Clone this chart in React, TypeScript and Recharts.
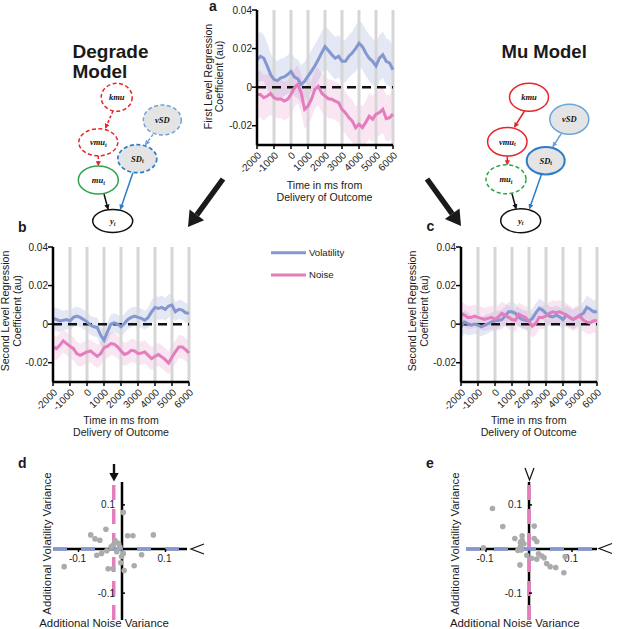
import React from 'react';
import {
  ComposedChart,
  Line,
  Area,
  XAxis,
  YAxis,
  ReferenceLine,
  ReferenceDot,
  ScatterChart,
  Scatter,
} from 'recharts';

// time axis (ms from delivery of outcome)
const times = [
  -2000, -1800, -1600, -1400, -1200, -1000, -800, -600, -400, -200, 0, 200, 400, 600, 800, 1000,
  1200, 1400, 1600, 1800, 2000, 2200, 2400, 2600, 2800, 3000, 3200, 3400, 3600, 3800, 4000, 4200,
  4400, 4600, 4800, 5000, 5200, 5400, 5600, 5800, 6000,
];
const xTicks = [-2000, -1000, 0, 1000, 2000, 3000, 4000, 5000, 6000];
const gridTimes = [-1000, 0, 1000, 2000, 3000, 4000, 5000, 6000];
const yTicks = [-0.02, 0, 0.02, 0.04];

// panel a - first level
const aVol = [
  0.0142, 0.016, 0.015, 0.011, 0.0065, 0.004, 0.0034, 0.0048, 0.0053, 0.0065, 0.0082, 0.0053,
  0.0043, 0.0014, 0.003, 0.0057, 0.0082, 0.011, 0.0142, 0.0177, 0.021, 0.019, 0.0168, 0.015, 0.016,
  0.0134, 0.0134, 0.016, 0.0177, 0.02, 0.0228, 0.021, 0.0177, 0.015, 0.0134, 0.011, 0.015, 0.0168,
  0.0134, 0.0125, 0.009,
];
const aVolSe = [
  0.013, 0.013, 0.012, 0.012, 0.011, 0.011, 0.01, 0.01, 0.01, 0.01, 0.01, 0.01, 0.01, 0.01, 0.01,
  0.01, 0.011, 0.011, 0.011, 0.011, 0.011, 0.011, 0.011, 0.011, 0.011, 0.011, 0.011, 0.011, 0.011,
  0.012, 0.012, 0.012, 0.012, 0.012, 0.012, 0.012, 0.012, 0.012, 0.012, 0.012, 0.012,
];
const aNoise = [
  -0.0038, -0.0038, -0.0055, -0.0046, -0.0033, -0.0055, -0.0063, -0.006, -0.0072, -0.0063, -0.0038,
  -0.0003, 0.0014, -0.003, -0.0115, -0.0098, -0.0063, -0.0012, 0.0005, -0.003, -0.0046, -0.006,
  -0.0063, -0.0072, -0.008, -0.0115, -0.0132, -0.0158, -0.0175, -0.021, -0.0192, -0.021, -0.0183,
  -0.015, -0.0166, -0.014, -0.0132, -0.0115, -0.0163, -0.0158, -0.014,
];
const aNoiseSe = [
  0.012, 0.012, 0.012, 0.011, 0.011, 0.01, 0.01, 0.01, 0.01, 0.01, 0.01, 0.01, 0.01, 0.01, 0.01,
  0.01, 0.01, 0.01, 0.01, 0.01, 0.01, 0.01, 0.01, 0.01, 0.01, 0.011, 0.011, 0.011, 0.011, 0.011,
  0.011, 0.011, 0.011, 0.012, 0.012, 0.012, 0.012, 0.012, 0.012, 0.012, 0.012,
];

// panel b - degrade model
const bVol = [
  0.003, 0.0024, 0.0017, 0.002, 0.0024, 0.0017, 0.0035, 0.0042, 0.0035, 0.0024, 0.0012, -0.0005,
  -0.0014, -0.0017, -0.0057, -0.0083, -0.004, 0, 0.0007, 0, -0.0014, 0.0003, 0.0024, 0.0035, 0.0042,
  0.0035, 0.003, 0.002, 0.0035, 0.0064, 0.0087, 0.0082, 0.0087, 0.0077, 0.0094, 0.0099, 0.0064,
  0.0077, 0.0073, 0.0059, 0.0056,
];
const bVolSe = [
  0.006, 0.006, 0.006, 0.005, 0.005, 0.005, 0.005, 0.005, 0.005, 0.005, 0.005, 0.005, 0.005, 0.005,
  0.005, 0.005, 0.005, 0.005, 0.005, 0.005, 0.005, 0.005, 0.005, 0.005, 0.005, 0.005, 0.005, 0.005,
  0.005, 0.006, 0.006, 0.006, 0.006, 0.006, 0.006, 0.006, 0.005, 0.005, 0.005, 0.005, 0.005,
];
const bNoise = [
  -0.0118, -0.0127, -0.011, -0.0087, -0.0101, -0.0115, -0.0127, -0.0153, -0.0162, -0.0153, -0.0144,
  -0.0139, -0.0153, -0.0167, -0.0153, -0.0122, -0.0115, -0.0101, -0.0104, -0.0118, -0.0139, -0.0157,
  -0.015, -0.0136, -0.0139, -0.0153, -0.015, -0.0144, -0.0162, -0.0179, -0.0167, -0.0157, -0.017,
  -0.0184, -0.0202, -0.017, -0.0144, -0.0118, -0.0118, -0.0132, -0.015,
];
const bNoiseSe = [
  0.006, 0.006, 0.006, 0.006, 0.006, 0.006, 0.006, 0.006, 0.006, 0.006, 0.006, 0.006, 0.006, 0.006,
  0.006, 0.006, 0.006, 0.006, 0.006, 0.006, 0.006, 0.006, 0.006, 0.006, 0.006, 0.006, 0.006, 0.006,
  0.006, 0.006, 0.006, 0.006, 0.006, 0.006, 0.006, 0.006, 0.006, 0.006, 0.006, 0.006, 0.006,
];

// panel c - mu model
const cVol = [
  -0.0014, 0.0012, 0.0003, -0.0005, 0, -0.0005, -0.0014, -0.0005, 0.0003, 0.0012, 0.0017, 0.002,
  0.0024, 0.0042, 0.0064, 0.0064, 0.0056, 0.0035, 0.0024, 0.002, 0.0017, 0.003, 0.0059, 0.0082,
  0.0073, 0.0056, 0.0042, 0.0038, 0.0047, 0.0038, 0.0024, 0.0047, 0.0035, 0.0024, 0.0035, 0.0047,
  0.0056, 0.0087, 0.0077, 0.0064, 0.0064,
];
const cVolSe = [
  0.006, 0.006, 0.006, 0.005, 0.005, 0.005, 0.005, 0.005, 0.005, 0.005, 0.005, 0.005, 0.005, 0.005,
  0.005, 0.005, 0.005, 0.005, 0.005, 0.005, 0.005, 0.005, 0.005, 0.005, 0.005, 0.005, 0.005, 0.005,
  0.005, 0.005, 0.005, 0.005, 0.005, 0.005, 0.005, 0.005, 0.006, 0.006, 0.006, 0.006, 0.006,
];
const cNoise = [
  0.0056, 0.0047, 0.0035, 0.0035, 0.0042, 0.0035, 0.003, 0.0024, 0.003, 0.0035, 0.0024, 0.0038,
  0.0056, 0.0047, 0.0035, 0.0024, 0.002, 0.0052, 0.0042, 0.0035, 0.0012, -0.001, 0.0003, 0.0035,
  0.0035, 0.0042, 0.0056, 0.0064, 0.0059, 0.0064, 0.0056, 0.0047, 0.0035, 0.0024, 0.0035, 0.0042,
  0.002, 0.0012, 0.0007, 0.0017, 0.0017,
];
const cNoiseSe = [
  0.006, 0.006, 0.006, 0.006, 0.006, 0.006, 0.006, 0.006, 0.006, 0.006, 0.006, 0.006, 0.006, 0.006,
  0.006, 0.006, 0.006, 0.006, 0.006, 0.006, 0.006, 0.006, 0.006, 0.006, 0.006, 0.006, 0.006, 0.006,
  0.006, 0.006, 0.006, 0.006, 0.006, 0.006, 0.006, 0.006, 0.006, 0.006, 0.006, 0.006, 0.006,
];

// panels d / e - per subject additional variance
const dPoints = [
  { x: 0.003, y: 0.083 }, { x: -0.037, y: 0.045 }, { x: -0.072, y: 0.032 }, { x: -0.062, y: 0.023 },
  { x: -0.051, y: 0.02 }, { x: -0.016, y: 0.019 }, { x: 0.013, y: 0.03 }, { x: 0.025, y: 0.03 },
  { x: 0.072, y: 0.032 }, { x: -0.025, y: 0.005 }, { x: -0.02, y: 0.009 }, { x: -0.008, y: 0.013 },
  { x: -0.012, y: -0.006 }, { x: 0.003, y: -0.01 }, { x: -0.058, y: -0.014 }, { x: -0.047, y: -0.01 },
  { x: -0.035, y: -0.004 }, { x: -0.005, y: 0.005 }, { x: 0.045, y: -0.013 }, { x: -0.003, y: -0.031 },
  { x: -0.133, y: -0.04 }, { x: 0.028, y: -0.038 }, { x: -0.032, y: -0.045 }, { x: -0.021, y: -0.045 },
  { x: 0.005, y: -0.049 }, { x: -0.001, y: -0.017 },
];
const ePoints = [
  { x: -0.085, y: 0.092 }, { x: -0.061, y: 0.051 }, { x: 0.012, y: 0.052 }, { x: -0.033, y: 0.024 },
  { x: -0.016, y: 0.03 }, { x: 0.012, y: 0.024 }, { x: 0.018, y: 0.017 }, { x: -0.106, y: 0.003 },
  { x: -0.02, y: 0.015 }, { x: -0.016, y: 0.02 }, { x: -0.012, y: 0.012 }, { x: -0.02, y: 0.005 },
  { x: -0.026, y: -0.003 }, { x: -0.018, y: -0.002 }, { x: -0.005, y: -0.014 }, { x: -0.021, y: -0.036 },
  { x: 0.006, y: -0.021 }, { x: 0.018, y: -0.023 }, { x: 0.022, y: -0.011 }, { x: 0.03, y: -0.016 },
  { x: 0.035, y: -0.02 }, { x: 0.041, y: -0.033 }, { x: 0.049, y: -0.04 }, { x: 0.062, y: -0.042 },
  { x: 0.084, y: -0.017 }, { x: 0.081, y: -0.054 },
];
const scatterTicks = [-0.1, 0.1];
const dNoiseShift = -0.019;
const eNoiseShift = 0;

const BLUE = '#8597d0';
const PINK = '#e47cbd';
const GRID = '#d6d6d6';
const FONT = "'Liberation Sans', Arial, sans-serif";

function makeRows(vol: number[], volSe: number[], noise: number[], noiseSe: number[]) {
  return times.map((t, i) => ({
    t,
    vol: vol[i],
    volBand: [vol[i] - volSe[i], vol[i] + volSe[i]],
    noise: noise[i],
    noiseBand: [noise[i] - noiseSe[i], noise[i] + noiseSe[i]],
  }));
}

const rowsA = makeRows(aVol, aVolSe, aNoise, aNoiseSe);
const rowsB = makeRows(bVol, bVolSe, bNoise, bNoiseSe);
const rowsC = makeRows(cVol, cVolSe, cNoise, cNoiseSe);

function RotTick(props: any) {
  const { x, y, payload } = props;
  const ax = x + 5;
  const ay = y + 5;
  return (
    <text x={ax} y={ay} transform={`rotate(-45 ${ax} ${ay})`} textAnchor="end" fontSize={10} fill="#222">
      {payload.value}
    </text>
  );
}

function TracePanel({ left, top, rows }: { left: number; top: number; rows: any[] }) {
  return (
    <div style={{ position: 'absolute', left, top }}>
      <ComposedChart width={177} height={185} data={rows} margin={{ top: 10, right: 6, bottom: 0, left: 0 }}>
        <XAxis
          dataKey="t"
          type="number"
          domain={[-2000, 6000]}
          ticks={xTicks}
          interval={0}
          height={40}
          tick={<RotTick />}
          tickSize={4}
          axisLine={{ stroke: '#000', strokeWidth: 2.5 }}
          tickLine={{ stroke: '#000', strokeWidth: 1.5 }}
        />
        <YAxis
          type="number"
          domain={[-0.03, 0.04]}
          allowDataOverflow
          ticks={yTicks}
          interval={0}
          width={35}
          tickSize={5}
          tickMargin={0}
          tick={{ fill: '#222', fontSize: 10 }}
          tickFormatter={(v: number) => (v === 0 ? '0' : v.toFixed(2))}
          axisLine={{ stroke: '#000', strokeWidth: 2.5 }}
          tickLine={{ stroke: '#000', strokeWidth: 1.5 }}
        />
        {gridTimes.map((g) => (
          <ReferenceLine key={g} x={g} stroke={GRID} strokeWidth={3} />
        ))}
        <Area dataKey="volBand" stroke="none" fill={BLUE} fillOpacity={0.22} isAnimationActive={false} />
        <Area dataKey="noiseBand" stroke="none" fill={PINK} fillOpacity={0.2} isAnimationActive={false} />
        <ReferenceLine y={0} stroke="#111" strokeWidth={2.5} strokeDasharray="9 6" />
        <Line dataKey="vol" stroke={BLUE} strokeWidth={3} dot={false} isAnimationActive={false} />
        <Line dataKey="noise" stroke={PINK} strokeWidth={3} dot={false} isAnimationActive={false} />
      </ComposedChart>
    </div>
  );
}

function XTickMark(props: any) {
  const { cx, cy, label } = props;
  return (
    <g>
      <line x1={cx} y1={cy} x2={cx} y2={cy + 3} stroke="#000" strokeWidth={1.5} />
      <text x={cx - 1} y={cy + 13} textAnchor="middle" fontSize={10} fill="#222">
        {label}
      </text>
    </g>
  );
}

function YTickMark(props: any) {
  const { cx, cy, label } = props;
  return (
    <g>
      <line x1={cx} y1={cy} x2={cx + 3} y2={cy} stroke="#000" strokeWidth={1.5} />
      <text x={cx - 7} y={cy + 3.5} textAnchor="end" fontSize={10} fill="#222">
        {label}
      </text>
    </g>
  );
}

function Dot(props: any) {
  return <circle cx={props.cx} cy={props.cy} r={2.8} fill="#ababab" />;
}

function ScatterPanel(p: {
  left: number;
  top: number;
  width: number;
  xDomain: [number, number];
  points: { x: number; y: number }[];
  noiseX: number;
}) {
  return (
    <div style={{ position: 'absolute', left: p.left, top: p.top }}>
      <ScatterChart width={p.width} height={138} margin={{ top: 0, right: 0, bottom: 0, left: 0 }}>
        <XAxis type="number" dataKey="x" domain={p.xDomain} allowDataOverflow hide />
        <YAxis type="number" dataKey="y" domain={[-0.161, 0.152]} allowDataOverflow hide />
        <ReferenceLine x={0} stroke="#000" strokeWidth={2.5} />
        <ReferenceLine y={0} stroke="#000" strokeWidth={2.5} />
        <ReferenceLine y={0} stroke={BLUE} strokeWidth={3.5} strokeDasharray="14 14" />
        <ReferenceLine x={p.noiseX} stroke={PINK} strokeWidth={3.5} strokeDasharray="15 9" />
        {scatterTicks.map((v) => (
          <ReferenceDot key={'x' + v} x={v} y={0} r={0} shape={(s: any) => <XTickMark {...s} label={String(v)} />} />
        ))}
        {scatterTicks.map((v) => (
          <ReferenceDot key={'y' + v} x={0} y={v} r={0} shape={(s: any) => <YTickMark {...s} label={String(v)} />} />
        ))}
        <Scatter data={p.points} shape={<Dot />} isAnimationActive={false} />
      </ScatterChart>
    </div>
  );
}

function Node(p: {
  cx: number;
  cy: number;
  rx: number;
  ry: number;
  stroke: string;
  fill?: string;
  dashed?: boolean;
  label: string;
  sub?: string;
  sw?: number;
}) {
  return (
    <g>
      <ellipse
        cx={p.cx}
        cy={p.cy}
        rx={p.rx}
        ry={p.ry}
        fill={p.fill || '#fff'}
        stroke={p.stroke}
        strokeWidth={p.sw || 1.5}
        strokeDasharray={p.dashed ? '4 2.5' : undefined}
      />
      <text
        x={p.cx}
        y={p.cy + 3}
        textAnchor="middle"
        fontFamily="'Liberation Serif', serif"
        fontStyle="italic"
        fontWeight="bold"
        fontSize={8.5}
        fill="#111"
      >
        {p.label}
        {p.sub && (
          <tspan fontSize={6} dy={1.5}>
            {p.sub}
          </tspan>
        )}
      </text>
    </g>
  );
}

function Edge(p: { x1: number; y1: number; x2: number; y2: number; color: string; marker: string; dashed?: boolean }) {
  return (
    <line
      x1={p.x1}
      y1={p.y1}
      x2={p.x2}
      y2={p.y2}
      stroke={p.color}
      strokeWidth={1.5}
      strokeDasharray={p.dashed ? '3 2' : undefined}
      markerEnd={`url(#${p.marker})`}
    />
  );
}

function BigArrow({ x1, y1, x2, y2 }: { x1: number; y1: number; x2: number; y2: number }) {
  const dx = x2 - x1;
  const dy = y2 - y1;
  const len = Math.hypot(dx, dy);
  const ux = dx / len;
  const uy = dy / len;
  const hl = 15;
  const hw = 9;
  const bx = x2 - ux * hl;
  const by = y2 - uy * hl;
  return (
    <g>
      <line x1={x1} y1={y1} x2={bx} y2={by} stroke="#1a1a1a" strokeWidth={5.5} />
      <polygon
        points={`${x2},${y2} ${bx - uy * hw},${by + ux * hw} ${bx + uy * hw},${by - ux * hw}`}
        fill="#1a1a1a"
      />
    </g>
  );
}

const RED = '#e5262b';
const GREEN = '#2ea44b';
const SDBLUE = '#2f7cc6';
const VSDBLUE = '#6fa3d9';

function Overlay() {
  const tStyle = { fontFamily: FONT, fill: '#1a1a1a' };
  return (
    <svg width={617} height={629} style={{ position: 'absolute', left: 0, top: 0, pointerEvents: 'none' }}>
      <defs>
        {[
          ['mRed', RED],
          ['mBlue', SDBLUE],
          ['mLBlue', VSDBLUE],
          ['mBlack', '#111'],
        ].map(([id, c]) => (
          <marker key={id} id={id} viewBox="0 0 6 6" refX="5" refY="3" markerWidth="3.5" markerHeight="3.5" orient="auto">
            <path d="M0,0 L6,3 L0,6 z" fill={c} />
          </marker>
        ))}
      </defs>

      {/* panel letters */}
      <g style={tStyle} fontWeight="bold" fontSize={14}>
        <text x={209} y={11}>a</text>
        <text x={18} y={231.5}>b</text>
        <text x={426.5} y={231}>c</text>
        <text x={18} y={468}>d</text>
        <text x={426} y={468}>e</text>
      </g>

      {/* model titles */}
      <g style={tStyle} fontWeight="bold" fontSize={19}>
        <text x={72.5} y={58}>Degrade</text>
        <text x={72.5} y={78}>Model</text>
        <text x={501.5} y={58.3} fontSize={18.5}>Mu Model</text>
      </g>

      {/* degrade model graph */}
      <Edge x1={113} y1={111} x2={105.5} y2={128} color={RED} marker="mRed" dashed />
      <Edge x1={98.3} y1={156} x2={98.3} y2={165.5} color={RED} marker="mRed" dashed />
      <Edge x1={153} y1={134.5} x2={145.5} y2={144.5} color={VSDBLUE} marker="mLBlue" dashed />
      <Edge x1={133} y1={172.5} x2={120.5} y2={209} color={SDBLUE} marker="mBlue" />
      <Edge x1={104} y1={194} x2={108} y2={209} color="#111" marker="mBlack" />
      <Node cx={116.7} cy={97.3} rx={15.5} ry={14} stroke={RED} dashed label="kmu" />
      <Node cx={162.3} cy={120} rx={19} ry={15} stroke={VSDBLUE} fill="#e4e4e4" dashed label="vSD" />
      <Node cx={98.3} cy={142.3} rx={19.5} ry={13.5} stroke={RED} dashed label="vmu" sub="t" />
      <Node cx={137.3} cy={158.7} rx={19.5} ry={14} stroke={SDBLUE} fill="#e4e4e4" dashed label="SD" sub="t" sw={1.7} />
      <Node cx={98.3} cy={180} rx={20} ry={14} stroke={GREEN} label="mu" sub="t" />
      <Node cx={112.7} cy={221} rx={20} ry={11.5} stroke="#111" label="y" sub="t" />

      {/* mu model graph */}
      <Edge x1={524.5} y1={111} x2={514.5} y2={127} color={RED} marker="mRed" />
      <Edge x1={507.3} y1={156} x2={507.3} y2={164.5} color={RED} marker="mRed" />
      <Edge x1={561} y1={134} x2={553} y2={146.5} color={VSDBLUE} marker="mLBlue" />
      <Edge x1={541.5} y1={174.3} x2={529.5} y2={208.5} color={SDBLUE} marker="mBlue" />
      <Edge x1={512} y1={193.7} x2={516} y2={208.5} color="#111" marker="mBlack" />
      <Node cx={529} cy={97.3} rx={19.5} ry={14} stroke={RED} label="kmu" />
      <Node cx={569.3} cy={119.3} rx={19.5} ry={15} stroke={VSDBLUE} fill="#e4e4e4" label="vSD" />
      <Node cx={507.3} cy={141.7} rx={19.7} ry={14.3} stroke={RED} label="vmu" sub="t" />
      <Node cx={545.7} cy={160.7} rx={19} ry={13.7} stroke={SDBLUE} fill="#e4e4e4" label="SD" sub="t" sw={2} />
      <Node cx={506} cy={179.3} rx={20} ry={14.5} stroke={GREEN} dashed label="mu" sub="t" />
      <Node cx={520.7} cy={220.7} rx={20} ry={12} stroke="#111" label="y" sub="t" />

      <BigArrow x1={223} y1={179} x2={188} y2={227} />
      <BigArrow x1={427} y1={179} x2={461} y2={226} />

      {/* axis titles of trace panels */}
      <g style={tStyle} fontSize={10.6} textAnchor="middle">
        <text transform="translate(211.5,76.5) rotate(-90)">First Level Regression</text>
        <text transform="translate(223,76.5) rotate(-90)">Coefficient (au)</text>
        <text x={324.5} y={189}>Time in ms from</text>
        <text x={324.5} y={200.5}>Delivery of Outcome</text>

        <text transform="translate(9,311) rotate(-90)">Second Level Regression</text>
        <text transform="translate(20.5,311) rotate(-90)">Coefficient (au)</text>
        <text x={121} y={424}>Time in ms from</text>
        <text x={121} y={435.5}>Delivery of Outcome</text>

        <text transform="translate(416,311) rotate(-90)">Second Level Regression</text>
        <text transform="translate(427.5,311) rotate(-90)">Coefficient (au)</text>
        <text x={528.7} y={424}>Time in ms from</text>
        <text x={528.7} y={435.5}>Delivery of Outcome</text>
      </g>

      {/* legend */}
      <line x1={271} y1={252.7} x2={306} y2={252.7} stroke={BLUE} strokeWidth={3} />
      <line x1={271} y1={275} x2={306} y2={275} stroke={PINK} strokeWidth={3} />
      <g style={tStyle} fontSize={9.6}>
        <text x={309} y={256}>Volatility</text>
        <text x={309} y={278.3}>Noise</text>
      </g>

      {/* scatter titles */}
      <g style={tStyle} fontSize={11.4} textAnchor="middle">
        <text transform="translate(50.5,543.5) rotate(-90)">Additional Volatility Variance</text>
        <text x={104} y={626.5}>Additional Noise Variance</text>
        <text transform="translate(459,543.5) rotate(-90)">Additional Volatility Variance</text>
        <text x={514.7} y={626.5}>Additional Noise Variance</text>
      </g>

      {/* markers on d / e */}
      <line x1={114} y1={464} x2={114} y2={475} stroke="#111" strokeWidth={2.4} />
      <polygon points="109.3,473 118.7,473 114,481.5" fill="#111" />
      <polyline points="204,544 191,549 204,554" fill="none" stroke="#111" strokeWidth={1.2} />
      <polyline points="525,468 529.5,480 534,468" fill="none" stroke="#111" strokeWidth={1.2} />
      <polyline points="612,543.5 599,548.5 612,553.5" fill="none" stroke="#111" strokeWidth={1.2} />
    </svg>
  );
}

export default function App() {
  return (
    <div
      style={{
        position: 'absolute',
        left: 0,
        top: 0,
        width: 617,
        height: 629,
        background: '#fff',
        fontFamily: FONT,
        overflow: 'hidden',
      }}
    >
      <TracePanel left={222} top={0} rows={rowsA} />
      <TracePanel left={17.5} top={237} rows={rowsB} />
      <TracePanel left={425.5} top={237} rows={rowsC} />
      <ScatterPanel left={53} top={482} width={134} xDomain={[-0.1586, 0.1494]} points={dPoints} noiseX={dNoiseShift} />
      <ScatterPanel left={466} top={482} width={131} xDomain={[-0.1465, 0.158]} points={ePoints} noiseX={eNoiseShift} />
      <Overlay />
    </div>
  );
}
